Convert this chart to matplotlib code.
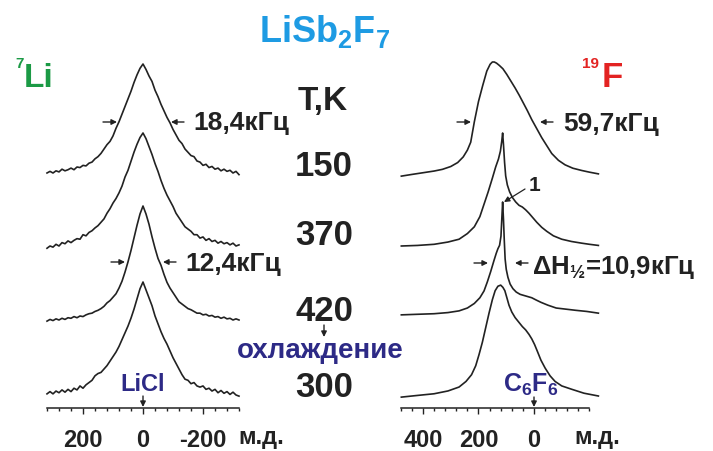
import numpy as np
import matplotlib
matplotlib.use("Agg")
import matplotlib.pyplot as plt
from matplotlib.ticker import FixedLocator

plt.rcParams.update({
    "font.family": ["Liberation Sans", "DejaVu Sans"],
    "font.weight": "bold",
    "mathtext.fontset": "custom",
    "mathtext.rm": "Liberation Sans:bold",
    "mathtext.bf": "Liberation Sans:bold",
    "mathtext.it": "Liberation Sans:bold",
    "mathtext.default": "rm",
    "axes.unicode_minus": False,
})

# --- 7Li spectra: chemical shift (ppm) and normalised intensity ---
li_ppm = [320, 310, 300, 290, 280, 270, 260, 250, 240, 230, 220, 210, 200,
          190, 180, 170, 160, 150, 140, 130, 120, 110, 100, 90, 80, 70, 60,
          50, 40, 30, 20, 10, 0, -10, -20, -30, -40, -50, -60, -70, -80, -90,
          -100, -110, -120, -130, -140, -150, -160, -170, -180, -190, -200,
          -210, -220, -230, -240, -250, -260, -270, -280, -290, -300, -310, -320]

li_150 = [0.00, 0.015, 0.00, 0.02, 0.01, 0.035, 0.02, 0.03, 0.045, 0.03, 0.055,
          0.05, 0.07, 0.065, 0.09, 0.10, 0.13, 0.15, 0.18, 0.22, 0.26, 0.29,
          0.34, 0.41, 0.47, 0.54, 0.61, 0.68, 0.75, 0.83, 0.90, 0.96, 1.00,
          0.95, 0.89, 0.84, 0.76, 0.70, 0.63, 0.57, 0.51, 0.46, 0.40, 0.35,
          0.30, 0.27, 0.22, 0.19, 0.16, 0.15, 0.11, 0.10, 0.07, 0.08, 0.05,
          0.06, 0.035, 0.045, 0.02, 0.035, 0.015, 0.025, 0.00, 0.015, -0.015]

li_370 = [-0.02, 0.00, -0.01, 0.015, 0.00, 0.03, 0.02, 0.045, 0.03, 0.05, 0.065,
          0.06, 0.10, 0.09, 0.12, 0.135, 0.16, 0.18, 0.21, 0.24, 0.29, 0.33,
          0.38, 0.42, 0.47, 0.53, 0.61, 0.67, 0.75, 0.83, 0.90, 0.96, 1.00,
          0.95, 0.88, 0.81, 0.73, 0.66, 0.58, 0.51, 0.45, 0.40, 0.35, 0.29,
          0.25, 0.21, 0.17, 0.15, 0.13, 0.10, 0.10, 0.07, 0.08, 0.05, 0.065,
          0.04, 0.05, 0.025, 0.04, 0.02, 0.03, 0.01, 0.025, 0.00, 0.01]

li_420 = [-0.01, 0.005, -0.005, 0.01, 0.00, 0.015, 0.005, 0.02, 0.015, 0.03,
          0.02, 0.035, 0.03, 0.045, 0.055, 0.06, 0.075, 0.085, 0.10, 0.12,
          0.15, 0.17, 0.20, 0.23, 0.28, 0.34, 0.42, 0.51, 0.61, 0.72, 0.83,
          0.93, 1.00, 0.93, 0.84, 0.73, 0.63, 0.54, 0.48, 0.40, 0.33, 0.28,
          0.24, 0.20, 0.16, 0.14, 0.12, 0.10, 0.09, 0.075, 0.06, 0.06, 0.045,
          0.05, 0.035, 0.04, 0.025, 0.03, 0.015, 0.025, 0.01, 0.015, 0.00,
          0.01, 0.00]

li_300 = [0.01, 0.03, 0.01, 0.035, 0.02, 0.045, 0.025, 0.05, 0.03, 0.06, 0.045,
          0.08, 0.06, 0.09, 0.11, 0.13, 0.17, 0.19, 0.20, 0.23, 0.26, 0.30,
          0.34, 0.38, 0.43, 0.49, 0.55, 0.61, 0.68, 0.76, 0.85, 0.94, 1.00,
          0.93, 0.86, 0.79, 0.70, 0.63, 0.56, 0.50, 0.45, 0.39, 0.33, 0.28,
          0.23, 0.18, 0.14, 0.13, 0.10, 0.11, 0.08, 0.07, 0.08, 0.05, 0.06,
          0.035, 0.05, 0.02, 0.04, 0.015, 0.03, 0.005, 0.025, 0.00, -0.01]

# --- 19F spectra ---
f_150_ppm = [478, 440, 400, 360, 330, 300, 275, 255, 240, 228, 215, 200, 185,
             170, 158, 150, 143, 135, 125, 112, 98, 83, 68, 53, 39, 24, 8,
             -10, -28, -46, -64, -88, -112, -140, -172, -200, -232]
f_150 = [-0.01, 0.005, 0.02, 0.035, 0.05, 0.075, 0.11, 0.16, 0.22, 0.29, 0.47,
         0.65, 0.79, 0.92, 0.98, 1.00, 1.00, 0.99, 0.97, 0.94, 0.89, 0.83,
         0.77, 0.705, 0.64, 0.57, 0.49, 0.41, 0.33, 0.26, 0.19, 0.13, 0.09,
         0.06, 0.04, 0.025, 0.01]

f_370_ppm = [478, 420, 360, 310, 270, 240, 215, 195, 180, 165, 150, 138, 128,
             121, 116, 113, 110, 106, 102, 96, 88, 78, 66, 54, 42, 30, 18, 4,
             -10, -28, -46, -70, -100, -135, -172, -200, -232]
f_370 = [0.00, 0.005, 0.015, 0.035, 0.06, 0.11, 0.17, 0.26, 0.37, 0.48, 0.60,
         0.70, 0.77, 0.84, 0.93, 1.00, 0.90, 0.74, 0.62, 0.54, 0.48, 0.43,
         0.39, 0.36, 0.345, 0.32, 0.29, 0.25, 0.21, 0.165, 0.13, 0.09, 0.06,
         0.04, 0.025, 0.015, 0.005]

f_420_ppm = [478, 420, 360, 310, 270, 240, 215, 195, 180, 168, 156, 145, 136,
             130, 124, 119, 116, 113, 110, 107, 104, 100, 94, 86, 76, 64, 50,
             36, 22, 8, -8, -25, -50, -80, -115, -150, -190, -232]
f_420 = [0.01, 0.015, 0.02, 0.03, 0.045, 0.07, 0.11, 0.16, 0.22, 0.30, 0.39,
         0.48, 0.55, 0.59, 0.62, 0.70, 0.85, 1.00, 0.85, 0.66, 0.50, 0.41,
         0.34, 0.28, 0.24, 0.21, 0.19, 0.18, 0.17, 0.16, 0.14, 0.12, 0.095,
         0.07, 0.06, 0.05, 0.04, 0.025]

f_300_ppm = [478, 420, 360, 310, 270, 245, 225, 210, 198, 186, 174, 162, 150,
             140, 130, 120, 112, 105, 98, 90, 80, 68, 55, 42, 30, 18, 8, -2,
             -12, -25, -40, -58, -76, -100, -136, -180, -232]
f_300 = [-0.01, 0.005, 0.02, 0.045, 0.08, 0.13, 0.19, 0.27, 0.37, 0.48, 0.61,
         0.74, 0.86, 0.94, 0.98, 0.99, 0.97, 0.94, 0.88, 0.81, 0.75, 0.70,
         0.66, 0.62, 0.59, 0.55, 0.51, 0.46, 0.40, 0.32, 0.25, 0.18, 0.13,
         0.09, 0.06, 0.025, 0.00]

temps = ["150", "370", "420", "300"]

# stacking of the traces (pixels above the axis line) and trace heights
li_offsets, li_heights = [235, 162, 88, 13], [109, 113, 114, 113]
f_offsets, f_heights = [233, 162, 92, 12], [113, 113, 114, 112]

W, H = 713, 451
INK = "#222222"
NAVY = "#2d2a86"

fig = plt.figure(figsize=(W / 100, H / 100), dpi=100)


def fxy(x, y):
    return x / W, 1 - y / H


def txt(x, y, s, size, color=INK, ha="left", va="baseline"):
    fig.text(*fxy(x, y), s, fontsize=size, color=color, ha=ha, va=va,
             fontweight="bold")


def arrow(x0, y0, x1, y1, lw=1.0):
    fig.add_artist(matplotlib.patches.FancyArrowPatch(
        fxy(x0, y0), fxy(x1, y1), transform=fig.transFigure,
        arrowstyle="-|>", mutation_scale=8, lw=lw, color=INK,
        shrinkA=0, shrinkB=0))


ax_li = fig.add_axes([44 / W, (H - 408) / H, 198 / W, 368 / H])
ax_f = fig.add_axes([398 / W, (H - 408) / H, 202.6 / W, 368 / H])

ax_li.set_xlim(330, -330)
ax_f.set_xlim(490, -240)

for ax in (ax_li, ax_f):
    ax.set_ylim(0, 368)
    ax.patch.set_alpha(0)
    for side in ("top", "left", "right"):
        ax.spines[side].set_visible(False)
    ax.spines["bottom"].set_linewidth(1.1)
    ax.spines["bottom"].set_color(INK)
    ax.set_yticks([])
    ax.tick_params(axis="x", which="major", length=4.5, width=1.0,
                   pad=10.5, labelsize=17, colors=INK)
    ax.tick_params(axis="x", which="minor", length=2.3, width=1.0, colors=INK)

ax_li.spines["bottom"].set_bounds(320, -320)
ax_li.set_xticks([200, 0, -200], labels=["200", "0", "-200"])
ax_li.xaxis.set_minor_locator(FixedLocator(np.arange(-320, 321, 40)))

ax_f.spines["bottom"].set_bounds(480, -200)
ax_f.set_xticks([400, 200, 0], labels=["400", "200", "0"])
ax_f.xaxis.set_minor_locator(FixedLocator(np.arange(-200, 481, 40)))

for inten, off, hgt in zip([li_150, li_370, li_420, li_300], li_offsets, li_heights):
    ax_li.plot(li_ppm, off + hgt * np.array(inten), color=INK, lw=1.2,
               clip_on=False)

f_traces = [(f_150_ppm, f_150), (f_370_ppm, f_370),
            (f_420_ppm, f_420), (f_300_ppm, f_300)]
for (ppm, inten), off, hgt in zip(f_traces, f_offsets, f_heights):
    ax_f.plot(ppm, off + hgt * np.array(inten), color=INK, lw=1.2,
              clip_on=False)

# titles and nucleus labels
txt(325, 42, r"LiSb$_2$F$_7$", 26, color="#1e9be3", ha="center")
txt(15, 68, "7", 11, color="#1b9a45")
txt(24, 87, "Li", 24, color="#1b9a45")
txt(582, 68, "19", 11, color="#e32322")
txt(602, 87, "F", 25, color="#e32322")

# temperature column
txt(323, 110, "T,K", 24, ha="center")
for t, yb in zip(temps, [176, 245, 321, 397]):
    txt(324, yb, t, 25, ha="center")
arrow(324, 325, 324, 337)
txt(320, 358, "охлаждение", 20, color=NAVY, ha="center")

# line widths
txt(193, 130, "18,4кГц", 19)
arrow(103, 122, 117, 122)
arrow(184, 122, 171, 122)
txt(185, 271, "12,4кГц", 19)
arrow(111, 262, 125, 262)
arrow(176, 262, 163, 262)
txt(563, 131, "59,7кГц", 19)
arrow(457, 122, 471, 122)
arrow(553, 122, 540, 122)
txt(532, 274, r"ΔH$_{½}$=10,9кГц", 18.5)
arrow(474, 263, 488, 263)
arrow(528, 263, 515, 263)
txt(535, 191, "1", 15, ha="center")
arrow(525, 189, 504, 202, lw=0.9)

# references
txt(143, 391, "LiCl", 17, color=NAVY, ha="center")
arrow(143, 396, 143, 407)
txt(531, 392, r"C$_6$F$_6$", 18, color=NAVY, ha="center")
arrow(534, 397, 534, 407)

# axis units
txt(261, 444, "м.д.", 17, ha="center")
txt(597, 444, "м.д.", 17, ha="center")

fig.savefig("out.png", dpi=100)
